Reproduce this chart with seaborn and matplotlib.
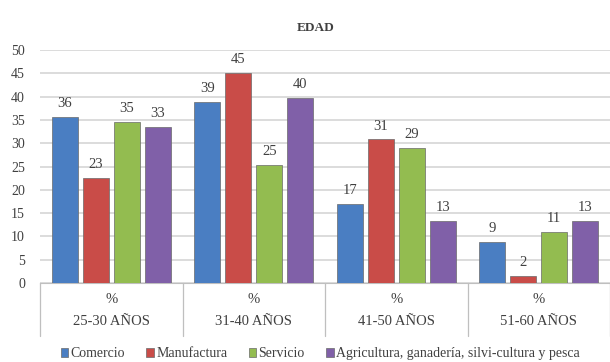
import matplotlib
matplotlib.use("Agg")
import matplotlib.pyplot as plt
import matplotlib.transforms as mtransforms
import seaborn as sns
import pandas as pd

# values (bar heights), grouped by age range
age_groups = ["25-30 AÑOS", "31-40 AÑOS", "41-50 AÑOS", "51-60 AÑOS"]
sectors = ["Comercio", "Manufactura", "Servicio",
           "Agricultura, ganadería, silvi-cultura y pesca"]
comercio = [35.6, 38.8, 16.9, 8.8]
manufactura = [22.6, 45.0, 30.8, 1.6]
servicio = [34.6, 25.4, 28.9, 10.9]
agricultura = [33.4, 39.8, 13.4, 13.4]
colors = ["#4A7EC2", "#C94C48", "#93BC50", "#8060A8"]

rows = []
for sector, vals in zip(sectors, [comercio, manufactura, servicio, agricultura]):
    for g, v in zip(age_groups, vals):
        rows.append({"grupo": g, "sector": sector, "pct": v})
df = pd.DataFrame(rows)

sns.set_style("white")
plt.rcParams["font.family"] = ["Liberation Serif", "DejaVu Serif"]

fig = plt.figure(figsize=(6.1, 3.62), dpi=100)
ax = fig.add_axes([0.066, 0.218, 0.934, 0.644])

sns.barplot(data=df, x="grupo", y="pct", hue="sector", order=age_groups,
            hue_order=sectors, palette=colors, saturation=1, width=0.87,
            gap=0.16, edgecolor="#6a6a6a", linewidth=0.5, legend=True,
            ax=ax, zorder=3)

for cont in ax.containers:
    ax.bar_label(cont, fmt="%.0f", padding=5, fontsize=10.5, color="#404040")

ax.set_ylim(0, 50)
ax.set_yticks(range(0, 51, 5))
ax.set_xlim(-0.5, 3.5)
ax.yaxis.grid(True, color="#D9D9D9", linewidth=1.3, zorder=0)
ax.set_axisbelow(True)
for s in ["top", "right", "left"]:
    ax.spines[s].set_visible(False)
ax.spines["bottom"].set_color("#BFBFBF")
ax.tick_params(axis="both", length=0, labelsize=10, colors="#404040")
ax.tick_params(axis="x", pad=7)
ax.tick_params(axis="y", pad=11)
ax.set_xticks(range(len(age_groups)))
ax.set_xticklabels(["%\n" + g for g in age_groups], linespacing=1.95,
                   fontsize=10.5)
ax.set_xlabel("")
ax.set_ylabel("")

# separators of the category table under the axis
trans = mtransforms.blended_transform_factory(ax.transData, ax.transAxes)
for xpos in [-0.5, 0.5, 1.5, 2.5, 3.5]:
    ax.plot([xpos, xpos], [0, -0.225], color="#BFBFBF", linewidth=0.9,
            transform=trans, clip_on=False)

ax.set_title("EDAD", fontsize=9.5, fontweight="bold", color="#404040",
             pad=14, x=0.484)

handles, labels = ax.get_legend_handles_labels()
ax.get_legend().remove()
fig.legend(handles, labels, loc="lower center", bbox_to_anchor=(0.525, -0.03),
           ncol=4, frameon=False, fontsize=10, handlelength=0.55,
           handleheight=0.55, handletextpad=0.15, columnspacing=1.55,
           labelcolor="#404040")

fig.savefig("out.png", dpi=100)
